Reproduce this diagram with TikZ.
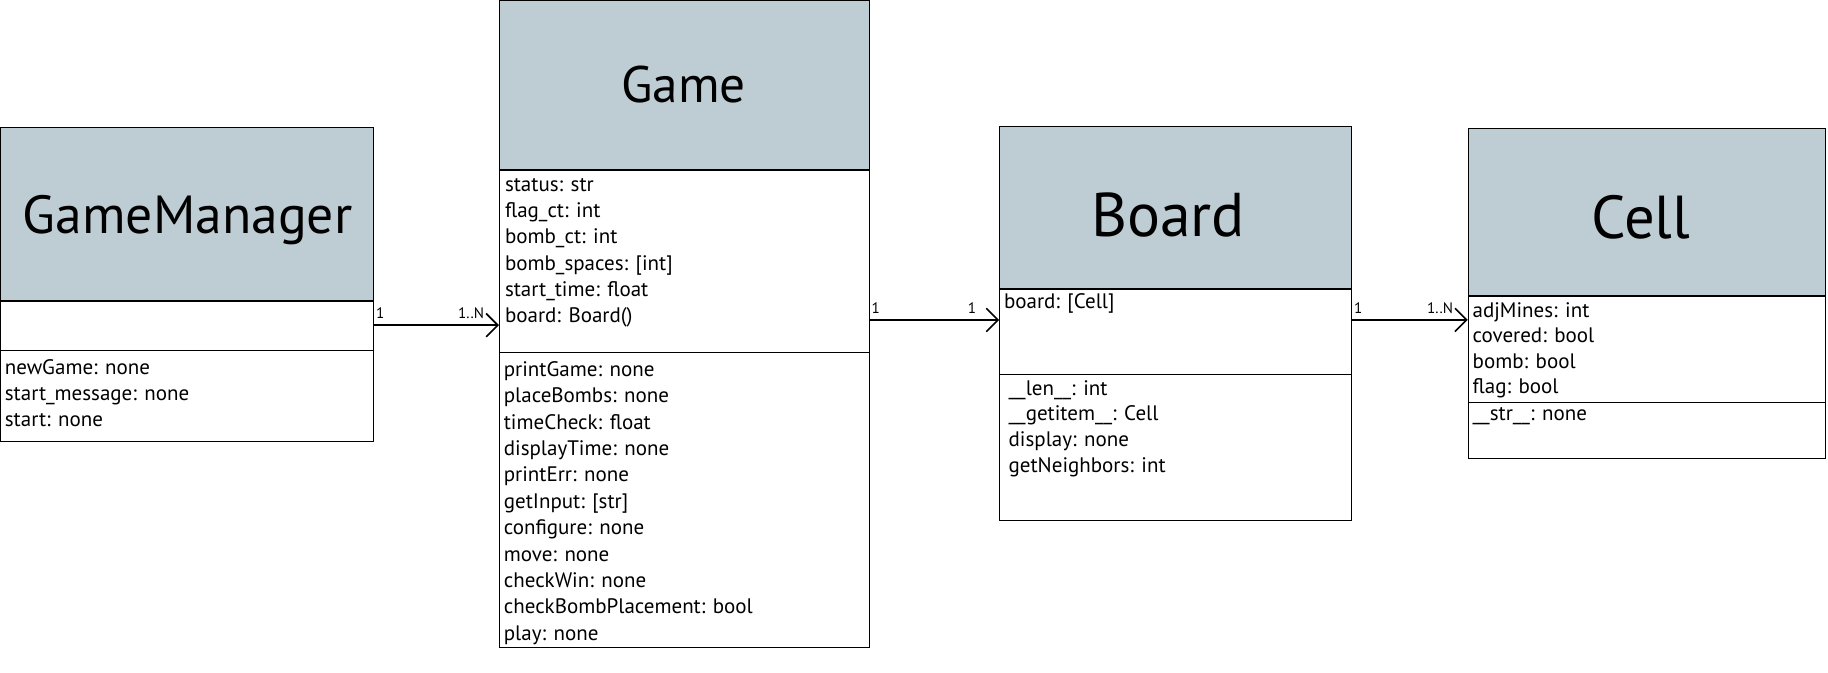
\documentclass[tikz,border=0pt]{standalone}
\usepackage{fontspec}
\setmainfont{PT Sans}
\usetikzlibrary{arrows.meta}
\definecolor{headfill}{RGB}{190,205,212}
\tikzset{
	classhead/.style={draw, fill=headfill, anchor=north west, inner sep=0pt, line width=0.9pt},
	section/.style={draw, anchor=north west, inner sep=0pt, line width=0.9pt},
	title/.style={anchor=base, inner sep=0pt},
	members/.style={anchor=north west, inner sep=0pt, align=left, font=\fontsize{18}{22.6}\selectfont},
	tightmembers/.style={members, font=\fontsize{18}{22}\selectfont},
	mult/.style={font=\fontsize{13}{15}\selectfont, inner sep=1pt, yshift=4pt},
	assoc/.style={line width=1.4pt, ->}
}

\begin{document}
\begin{tikzpicture}[x=1pt, y=-1pt, >={Straight Barb[length=10pt, width=20pt, line width=1.4pt]}]
	\useasboundingbox (0,0) rectangle (1568,577);

	% GameManager
	\node[classhead, minimum width=320pt, minimum height=148pt] (gmHead) at (0,109) {};
	\node[section, minimum width=320pt, minimum height=43pt] (gmAttr) at (0,257) {};
	\node[section, minimum width=320pt, minimum height=78pt] (gmMeth) at (0,300) {};
	\draw[line width=1.8pt] (gmHead.south west) -- (gmHead.south east);
	\node[title, font=\fontsize{46}{50}\selectfont] (gmTitle) at (161,200) {GameManager};
	\node[members] (gmMethText) at (4,308) {newGame: none\\start\_message: none\\start: none};

	% Game
	\node[classhead, minimum width=317pt, minimum height=145pt] (gameHead) at (428,0) {};
	\node[section, minimum width=317pt, minimum height=157pt] (gameAttr) at (428,145) {};
	\node[section, minimum width=317pt, minimum height=253pt] (gameMeth) at (428,302) {};
	\draw[line width=1.8pt] (gameHead.south west) -- (gameHead.south east);
	\node[title, font=\fontsize{44}{48}\selectfont] (gameTitle) at (586.5,88) {Game};
	\node[members] (gameAttrText) at (433,152.5) {status: str\\flag\_ct: int\\bomb\_ct: int\\bomb\_spaces: [int]\\start\_time: float\\board: Board()};
	\node[members] (gameMethText) at (432,310) {printGame: none\\placeBombs: none\\timeCheck: float\\displayTime: none\\printErr: none\\getInput: [str]\\configure: none\\move: none\\checkWin: none\\checkBombPlacement: bool\\play: none};

	% Board
	\node[classhead, minimum width=302pt, minimum height=139pt] (boardHead) at (857,108) {};
	\node[section, minimum width=302pt, minimum height=74pt] (boardAttr) at (857,247) {};
	\node[section, minimum width=302pt, minimum height=125pt] (boardMeth) at (857,321) {};
	\draw[line width=1.8pt] (boardHead.south west) -- (boardHead.south east);
	\node[title, font=\fontsize{53}{57}\selectfont] (boardTitle) at (1002,203) {Board};
	\node[members] (boardAttrText) at (861,252) {board: [Cell]};
	\node[tightmembers] (boardMethText) at (865,326) {\_\_len\_\_: int\\\_\_getitem\_\_: Cell\\display: none\\getNeighbors: int};

	% Cell
	\node[classhead, minimum width=306pt, minimum height=143pt] (cellHead) at (1259,110) {};
	\node[section, minimum width=306pt, minimum height=92pt] (cellAttr) at (1259,253) {};
	\node[section, minimum width=306pt, minimum height=48pt] (cellMeth) at (1259,345) {};
	\draw[line width=1.8pt] (cellHead.south west) -- (cellHead.south east);
	\node[title, font=\fontsize{52}{56}\selectfont] (cellTitle) at (1407.5,205) {Cell};
	\node[tightmembers] (cellAttrText) at (1263,259) {adjMines: int\\covered: bool\\bomb: bool\\flag: bool};
	\node[members] (cellMethText) at (1263,349) {\_\_str\_\_: none};

	% associations
	\draw[assoc] (gmAttr.east) -- (gmAttr.east -| gameAttr.west)
		node[mult, pos=0, anchor=south west] {1}
		node[mult, pos=1, anchor=south east, xshift=-11pt] {1..N};
	\draw[assoc] ([yshift=10pt]boardAttr.west -| gameAttr.east) -- ([yshift=10pt]boardAttr.west)
		node[mult, pos=0, anchor=south west] {1}
		node[mult, pos=1, anchor=south east, xshift=-18pt] {1};
	\draw[assoc] ([yshift=10pt]boardAttr.east) -- ([yshift=10pt]boardAttr.east -| cellAttr.west)
		node[mult, pos=0, anchor=south west] {1}
		node[mult, pos=1, anchor=south east, xshift=-11pt] {1..N};
\end{tikzpicture}
\end{document}
